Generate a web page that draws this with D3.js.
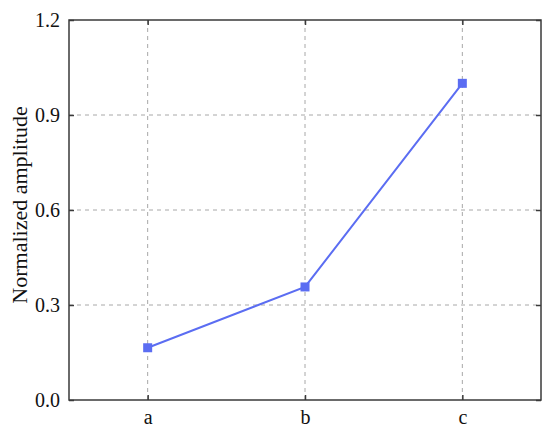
<!DOCTYPE html>
<html><head><meta charset="utf-8">
<script src="https://cdn.jsdelivr.net/npm/d3@7"></script>
<style>body{margin:0;background:#fff}svg{display:block}</style>
</head><body>
<svg id="chart" width="550" height="431"></svg>
<script>
const categories = ["a", "b", "c"];
const values = [0.165, 0.357, 1.0];
const yTicks = [0.0, 0.3, 0.6, 0.9, 1.2];
const yLabel = "Normalized amplitude";

const svg = d3.select("#chart");
const m = {left: 69, right: 9, top: 20, bottom: 31};
const W = 550, H = 431;
const x = d3.scalePoint().domain(categories).range([m.left, W - m.right]).padding(0.5);
const y = d3.scaleLinear().domain([0, 1.2]).range([H - m.bottom, m.top]);
const font = "'Liberation Serif', 'Times New Roman', serif";
const frame = "#3a3a3a", grid = "#a8a8a8", blue = "#5b6df2";

// grid
const g = svg.append("g");
g.selectAll(".vg").data(categories).join("line")
  .attr("x1", d => x(d)).attr("x2", d => x(d))
  .attr("y1", y(0)).attr("y2", y(1.2))
  .attr("stroke", grid).attr("stroke-width", 1).attr("stroke-dasharray", "4,4");
g.selectAll(".hg").data(yTicks.slice(1, -1)).join("line")
  .attr("x1", m.left).attr("x2", W - m.right)
  .attr("y1", d => y(d)).attr("y2", d => y(d))
  .attr("stroke", grid).attr("stroke-width", 1).attr("stroke-dasharray", "4,4");

// axes
const xAxis = d3.axisBottom(x).tickSizeInner(-5).tickSizeOuter(0).tickPadding(10);
const yAxis = d3.axisLeft(y).tickValues(yTicks).tickFormat(d3.format(".1f")).tickSizeInner(-5).tickSizeOuter(0).tickPadding(9);
const xTop = d3.axisTop(x).tickSizeInner(-5).tickSizeOuter(0).tickFormat("");
const yRight = d3.axisRight(y).tickValues(yTicks).tickSizeInner(-5).tickSizeOuter(0).tickFormat("");

function style(sel) {
  sel.select(".domain").remove();
  sel.selectAll(".tick line").attr("stroke", frame).attr("stroke-width", 1.5);
  sel.selectAll(".tick text").attr("font-family", font).attr("font-size", 20).attr("fill", "#111");
}
svg.append("g").attr("transform", `translate(0,${y(0)})`).call(xAxis).call(style);
svg.append("g").attr("transform", `translate(${m.left},0)`).call(yAxis).call(style);
svg.append("g").attr("transform", `translate(0,${y(1.2)})`).call(xTop).call(style);
svg.append("g").attr("transform", `translate(${W - m.right},0)`).call(yRight).call(style);

// frame
svg.append("rect").attr("x", m.left).attr("y", m.top)
  .attr("width", W - m.right - m.left).attr("height", y(0) - m.top)
  .attr("fill", "none").attr("stroke", frame).attr("stroke-width", 1.5);

// line
const data = categories.map((c, i) => ({c, v: values[i]}));
svg.append("path").datum(data)
  .attr("d", d3.line().x(d => x(d.c)).y(d => y(d.v)))
  .attr("fill", "none").attr("stroke", blue).attr("stroke-width", 2);
svg.selectAll(".pt").data(data).join("rect")
  .attr("x", d => x(d.c) - 4.5).attr("y", d => y(d.v) - 4.5)
  .attr("width", 9).attr("height", 9).attr("fill", blue);

// y label
svg.append("text").attr("transform", `translate(27,${205}) rotate(-90)`)
  .attr("text-anchor", "middle").attr("font-family", font).attr("font-size", 22).attr("fill", "#111")
  .text(yLabel);
</script>
</body></html>
